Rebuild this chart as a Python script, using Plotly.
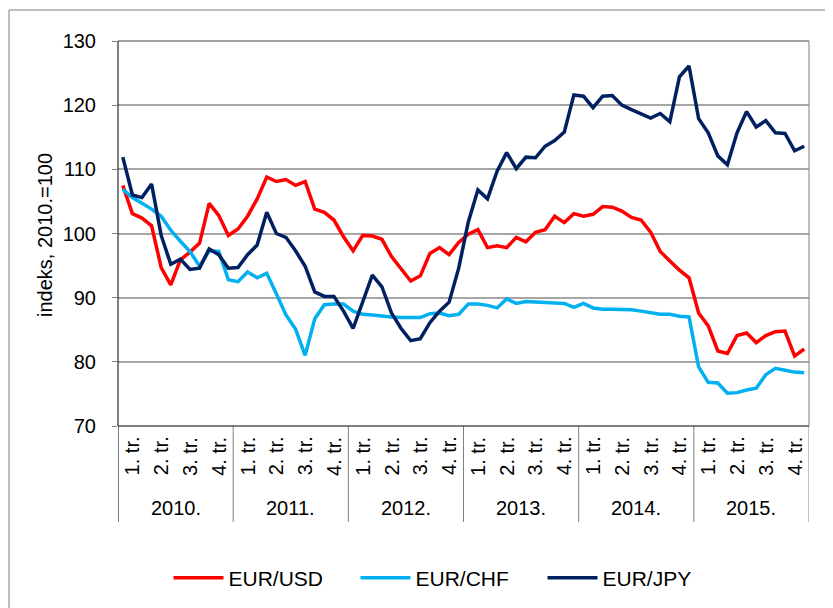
import plotly.graph_objects as go

years = ["2010.", "2011.", "2012.", "2013.", "2014.", "2015."]
quarters = ["1. tr.", "2. tr.", "3. tr.", "4. tr."]

eur_usd = [107.5, 103.1, 102.4, 101.2, 94.7, 92.0, 95.9, 97.1, 98.5, 104.7, 102.8, 99.7,
           100.7, 102.7, 105.4, 108.8, 108.1, 108.4, 107.5, 108.1, 103.8, 103.3, 102.1, 99.5,
           97.3, 99.7, 99.6, 99.1, 96.4, 94.4, 92.6, 93.4, 96.9, 97.8, 96.7, 98.6,
           99.9, 100.6, 97.8, 98.1, 97.8, 99.4, 98.7, 100.2, 100.6, 102.7, 101.7, 103.1,
           102.7, 103.0, 104.2, 104.1, 103.5, 102.5, 102.1, 100.2, 97.2, 95.7, 94.3, 93.1,
           87.6, 85.6, 81.7, 81.3, 84.1, 84.5, 83.0, 84.1, 84.7, 84.8, 80.9, 82.0]

eur_chf = [106.9, 105.6, 104.7, 103.8, 102.7, 100.5, 98.8, 97.2, 94.9, 97.3, 97.2, 92.8,
           92.5, 94.0, 93.1, 93.8, 90.6, 87.3, 85.1, 81.0, 86.7, 88.9, 89.0, 89.0,
           87.9, 87.4, 87.3, 87.1, 87.0, 86.9, 86.9, 86.9, 87.5, 87.6, 87.2, 87.4,
           89.0, 89.0, 88.8, 88.4, 89.8, 89.1, 89.4, 89.3, 89.3, 89.1, 89.1, 88.5,
           89.1, 88.4, 88.2, 88.2, 88.2, 88.1, 87.9, 87.7, 87.4, 87.4, 87.1, 87.0,
           79.2, 76.8, 76.7, 75.1, 75.2, 75.6, 75.9, 78.0, 79.0, 78.7, 78.4, 78.3]

eur_jpy = [111.9, 106.0, 105.6, 107.7, 99.7, 95.2, 96.0, 94.4, 94.6, 97.6, 96.7, 94.6,
           94.7, 96.7, 98.2, 103.3, 100.0, 99.4, 97.3, 94.9, 90.9, 90.2, 90.2, 87.9,
           85.2, 89.5, 93.5, 91.7, 87.6, 85.2, 83.3, 83.6, 86.1, 87.9, 89.3, 94.6,
           101.8, 106.8, 105.4, 109.7, 112.6, 110.1, 111.9, 111.8, 113.6, 114.5, 115.8, 121.6,
           121.4, 119.6, 121.4, 121.5, 120.0, 119.3, 118.6, 118.0, 118.7, 117.4, 124.4, 126.1,
           117.9, 115.7, 112.1, 110.7, 115.7, 119.0, 116.6, 117.6, 115.7, 115.6, 112.9, 113.6]

y_ticks = [70, 80, 90, 100, 110, 120, 130]

W, H = 833, 608
OFF = 8  # page body offset
L, R, T, B = 118 - OFF, 809 - OFF, 41 - OFF, 426 - OFF
PW, PH = R - L, B - T


def px(x):
    return (x - OFF - L) / PW


def py(y):
    return (B - (y - OFF)) / PH


FONT = "Arial, Liberation Sans, sans-serif"
FS = 20
months = [i + 0.5 for i in range(len(eur_usd))]

fig = go.Figure()
for name, vals, col in [("EUR/USD", eur_usd, "#FF0000"),
                        ("EUR/CHF", eur_chf, "#00B0F0"),
                        ("EUR/JPY", eur_jpy, "#002060")]:
    fig.add_trace(go.Scatter(x=months, y=vals, mode="lines", name=name,
                             line=dict(color=col, width=3.5)))

shapes = []
annotations = []
for k in range(len(years) + 1):
    shapes.append(dict(type="line", xref="x", yref="paper", x0=k * 12, x1=k * 12,
                       y0=0, y1=py(522),
                       line=dict(color="#000000" if k == 0 else "#808080", width=1)))
shapes.append(dict(type="line", xref="paper", yref="paper", x0=0, x1=1, y0=1, y1=1,
                   line=dict(color="#404040", width=1)))
shapes.append(dict(type="line", xref="paper", yref="paper", x0=0, x1=1, y0=0, y1=0,
                   line=dict(color="#000000", width=1)))
shapes.append(dict(type="line", xref="paper", yref="paper", x0=0, x1=0, y0=0, y1=1,
                   line=dict(color="#000000", width=1)))
shapes.append(dict(type="line", xref="paper", yref="paper", x0=1, x1=1, y0=0, y1=1,
                   line=dict(color="#808080", width=1)))
shapes.append(dict(type="rect", xref="paper", yref="paper", x0=px(9), x1=px(870),
                   y0=py(660), y1=py(10), line=dict(color="#808080", width=1)))

for yi, yr in enumerate(years):
    for qi, q in enumerate(quarters):
        annotations.append(dict(text=q, xref="x", yref="paper", x=yi * 12 + qi * 3 + 1.5,
                                y=py(456), textangle=-90, showarrow=False,
                                font=dict(family=FONT, size=FS, color="#000000"),
                                xanchor="center", yanchor="middle"))
    annotations.append(dict(text=yr, xref="x", yref="paper", x=yi * 12 + 6, y=py(508),
                            showarrow=False, font=dict(family=FONT, size=FS, color="#000000"),
                            xanchor="center", yanchor="middle"))

annotations.append(dict(text="indeks, 2010.=100", xref="paper", yref="paper",
                        x=px(45), y=py(235), textangle=-90, showarrow=False,
                        font=dict(family=FONT, size=FS, color="#000000"),
                        xanchor="center", yanchor="middle"))

fig.update_layout(
    width=W, height=H,
    margin=dict(l=L, r=W - R, t=T, b=H - B, autoexpand=False),
    paper_bgcolor="white", plot_bgcolor="white",
    font=dict(family=FONT, size=FS, color="#000000"),
    xaxis=dict(range=[0, 72], showgrid=False, zeroline=False, showticklabels=False,
               ticks="", showline=False, fixedrange=True),
    yaxis=dict(range=[70, 130], tickvals=y_ticks, showgrid=True, gridcolor="#A6A6A6",
               gridwidth=1.5, zeroline=False, ticks="outside", ticklen=5,
               tickcolor="#808080", showline=False, ticklabelstandoff=12,
               tickfont=dict(family=FONT, size=FS, color="#000000")),
    showlegend=True,
    legend=dict(orientation="h", x=px(449), xanchor="center", y=py(578), yanchor="middle",
                font=dict(family=FONT, size=21, color="#000000"), itemwidth=50,
                entrywidth=122, entrywidthmode="pixels",
                bgcolor="rgba(0,0,0,0)"),
    shapes=shapes,
    annotations=annotations,
)

fig.write_html("out.html")
